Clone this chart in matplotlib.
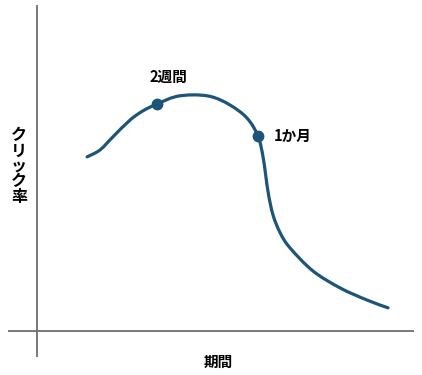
import matplotlib.pyplot as plt
from matplotlib.path import Path
from matplotlib.patches import PathPatch

plt.rcParams['font.family'] = ['Noto Sans CJK JP', 'DejaVu Sans']

# 期間 (x) とクリック率 (y) の概念曲線
period = [13.3, 16.7, 20.2, 24.7, 28.1, 31.8, 36.6, 41.4, 46.4, 51.2, 55.7,
          58.6, 60.0, 61.3, 62.6, 64.5, 67.1, 73.2, 80.4, 87.5, 93.1]
ctr = [53.4, 55.5, 59.6, 64.7, 67.5, 69.6, 71.8, 72.4, 71.8, 69.3, 65.3,
       59.8, 53.1, 42.6, 35.6, 30.1, 25.5, 18.4, 13.2, 9.5, 7.1]

marks = ['2週間', '1か月']
mark_x = [31.8, 58.6]
mark_y = [69.6, 59.8]

line_color = '#1d5479'


def smooth_path(xs, ys):
    # Catmull-Rom をベジェ曲線に変換して滑らかに結ぶ
    pts = list(zip(xs, ys))
    verts = [pts[0]]
    codes = [Path.MOVETO]
    n = len(pts)
    for i in range(n - 1):
        p0 = pts[max(i - 1, 0)]
        p1 = pts[i]
        p2 = pts[i + 1]
        p3 = pts[min(i + 2, n - 1)]
        c1 = (p1[0] + (p2[0] - p0[0]) / 6, p1[1] + (p2[1] - p0[1]) / 6)
        c2 = (p2[0] - (p3[0] - p1[0]) / 6, p2[1] - (p3[1] - p1[1]) / 6)
        verts += [c1, c2, p2]
        codes += [Path.CURVE4] * 3
    return Path(verts, codes)


fig = plt.figure(figsize=(4.22, 3.75), dpi=100)
ax = fig.add_axes([0, 0, 1, 1])
ax.set_xlim(-9.81, 102.12)
ax.set_ylim(-13.5, 101.5)
ax.axis('off')

# 手描き風の軸
ax.plot([0, 0], [-8, 100], color='#6e6e6e', lw=1.3, solid_capstyle='butt')
ax.plot([-7.7, 100], [0, 0], color='#6e6e6e', lw=1.3, solid_capstyle='butt')

ax.add_patch(PathPatch(smooth_path(period, ctr), fill=False,
                       edgecolor=line_color, lw=2.3, capstyle='round',
                       joinstyle='round'))
ax.plot(mark_x, mark_y, 'o', color=line_color, ms=7.5)

ax.annotate(marks[0], xy=(mark_x[0], mark_y[0]), xytext=(12, 27),
            textcoords='offset pixels', ha='center', va='center',
            fontsize=10.5, fontweight='bold')
ax.annotate(marks[1], xy=(mark_x[1], mark_y[1]), xytext=(16, 0),
            textcoords='offset pixels', ha='left', va='center',
            fontsize=10.5, fontweight='bold')

# 軸ラベル
ax.text(-4.8, 50.6, '\n'.join('クリック率'), ha='center', va='center',
        fontsize=11.5, fontweight='bold', linespacing=0.95)
ax.text(48.0, -9.5, '期間', ha='center', va='center',
        fontsize=10.5, fontweight='bold')

plt.savefig('out.png', dpi=100)
